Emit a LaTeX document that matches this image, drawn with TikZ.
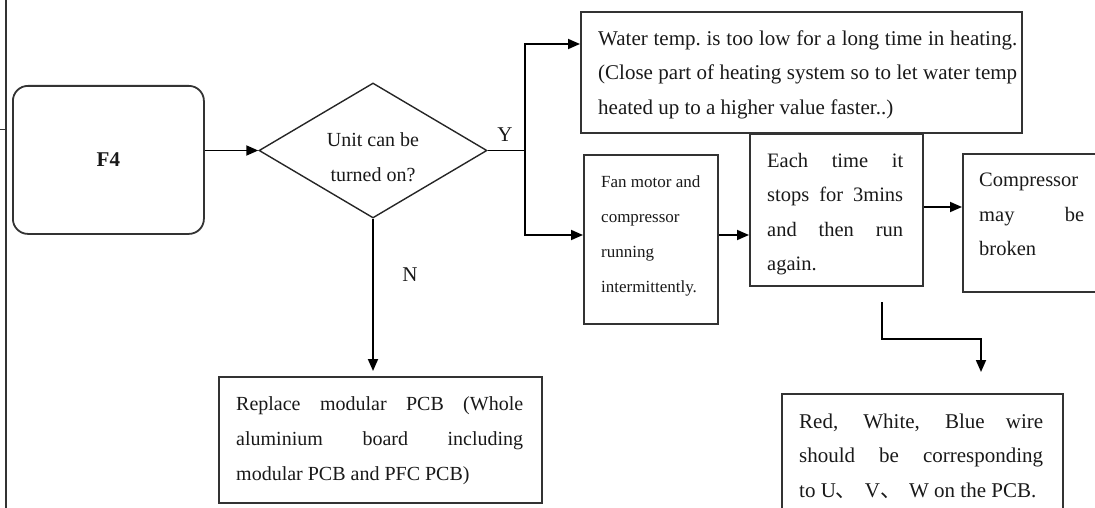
\documentclass[tikz,border=0pt]{standalone}
\usepackage{fontspec}
\setmainfont{Liberation Serif}
\newfontfamily\cjk{Noto Sans CJK SC}
\usetikzlibrary{shapes.geometric,arrows.meta}
\begin{document}
\begin{tikzpicture}[x=1pt,y=-1pt,
  box/.style={draw=black!80, line width=1.8pt, inner sep=0pt, anchor=north west},
  txt/.style={inner sep=0pt, anchor=north west, align=left, text=black!90},
  arr/.style={line width=1.8pt, -{Triangle[length=12pt,width=10pt]}},
  fa/.style={font=\fontsize{20.5pt}{34.5pt}\selectfont},
  fb/.style={font=\fontsize{21pt}{34.5pt}\selectfont},
  fc/.style={font=\fontsize{17pt}{35pt}\selectfont},
  fd/.style={font=\fontsize{20pt}{35pt}\selectfont}]
\useasboundingbox (0,0) rectangle (1095,508);
\clip (0,0) rectangle (1095,508);
% page edge line
\draw[line width=1.6pt, black!80] (6,0) -- (6,508);
\draw[line width=1pt, black!80] (0,130) -- (6,130);

% boxes
\node[box, rounded corners=15pt, minimum width=191pt, minimum height=148pt,
      font=\bfseries\fontsize{21pt}{25pt}\selectfont, text=black!90] (F4) at (12,85) {F4};
\node[diamond, draw=black!85, line width=1.4pt, inner sep=0pt,
      minimum width=228pt, minimum height=135pt] (D) at (373,150.5) {};
\node[box, minimum width=441pt, minimum height=121pt] (TB) at (580,11) {};
\node[box, minimum width=134pt, minimum height=169pt] (FB) at (583,154) {};
\node[box, minimum width=173pt, minimum height=152pt] (ET) at (749,133) {};
\node[box, minimum width=150pt, minimum height=138pt] (CB) at (962,153) {};
\node[box, minimum width=281pt, minimum height=150pt] (RW) at (781,393) {};
\node[box, minimum width=323pt, minimum height=126pt] (RB) at (218,376) {};

% texts
\node[inner sep=0pt, anchor=north, align=center, text=black!90, fd] (Dt) at (373,132.3)
  {Unit can be\\turned on?};
\node[txt, fb] (TBt) at (598,30.5)
  {\makebox[419pt][s]{Water temp.\ is too low for a long time in heating.}\\
   \makebox[419pt][s]{(Close part of heating system so to let water temp}\\
   heated up to a higher value faster..)};
\node[txt, fc] (FBt) at (601,176)
  {Fan motor and\\compressor\\running\\intermittently.};
\node[txt, fa] (ETt) at (767,153)
  {\makebox[136pt][s]{Each time it}\\
   \makebox[136pt][s]{stops for 3mins}\\
   \makebox[136pt][s]{and then run}\\
   again.};
\node[txt, fa] (CBt) at (979,173)
  {Compressor\\
   \makebox[105pt][s]{may be}\\
   broken};
\node[txt, fb] (RWt) at (799,413.5)
  {\makebox[244pt][s]{Red, White, Blue wire}\\
   \makebox[244pt][s]{should be corresponding}\\
   to U{\cjk 、}\hspace{8pt}V{\cjk 、}\hspace{8pt}W on the PCB.};
\node[txt, fd] (RBt) at (236,396)
  {\makebox[287pt][s]{Replace modular PCB (Whole}\\
   \makebox[287pt][s]{aluminium board including}\\
   modular PCB and PFC PCB)};
\node[inner sep=0pt, fb, text=black!90] (Y) at (505,135) {Y};
\node[inner sep=0pt, fb, text=black!90] (N) at (410,275) {N};

% connectors
\coordinate (Jt) at (525,44);
\coordinate (Jb) at (525,235);
\coordinate (K) at (0,207);
\coordinate (c1) at (882,302);
\coordinate (c2) at (981,372);
\draw[arr] (F4.east |- D.west) -- (D.west);
\draw[arr] (D.east) -- (D.east -| Jt) -- (Jt) -- (Jt -| TB.west);
\draw[arr] (D.east -| Jb) -- (Jb) -- (Jb -| FB.west);
\draw[arr] (FB.east |- Jb) -- (ET.west |- Jb);
\draw[arr] (ET.east |- K) -- (CB.west |- K);
\draw[arr] (D.south) -- ([yshift=5pt]D.south |- RB.north);
\draw[arr] (c1) -- (c1 |- 0,339) -| (c2);
\end{tikzpicture}
\end{document}
